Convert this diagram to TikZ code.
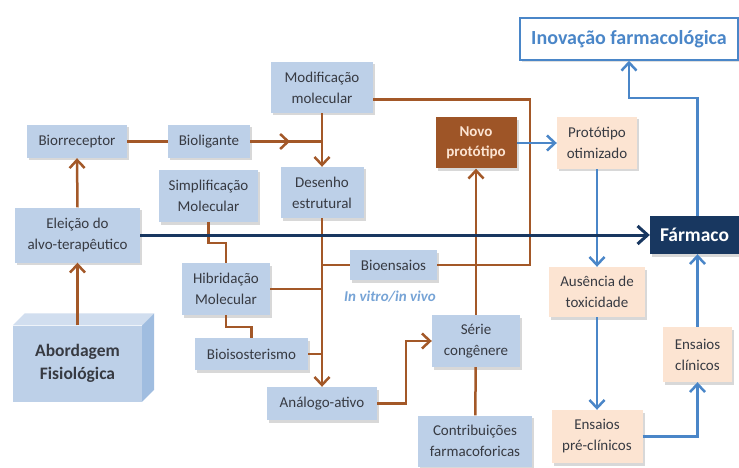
\documentclass[tikz,border=0pt]{standalone}
\usepackage{fontspec}
\setmainfont{Carlito}
\usetikzlibrary{arrows.meta,positioning,shadows}
\definecolor{boxblue}{RGB}{189,208,232}
\definecolor{peach}{RGB}{252,228,210}
\definecolor{rust}{RGB}{163,88,40}
\definecolor{navy}{RGB}{24,55,96}
\definecolor{skyline}{RGB}{74,134,200}
\definecolor{txt}{RGB}{55,58,66}

\begin{document}
\begin{tikzpicture}[
    x=1pt, y=-1pt,
    stage/.style={fill=boxblue, text=txt, align=center, font=\fontsize{15}{21}\selectfont, inner sep=2pt,
        drop shadow={shadow xshift=2pt, shadow yshift=-2.5pt, opacity=0.3}},
    trial/.style={stage, fill=peach},
    wire/.style={draw=rust, line width=2.5pt},
    link/.style={wire, -{Straight Barb[length=8pt, width=15pt]}},
    flow/.style={draw=skyline, line width=2.5pt, -{Straight Barb[length=8pt, width=15pt]}},
    main/.style={draw=navy, line width=3pt, -{Straight Barb[length=10pt, width=18pt]}}
]
\fill[white] (0,0) rectangle (739,468);
\useasboundingbox (0,0) rectangle (739,468);

\node[stage, minimum width=100pt, minimum height=33pt] (bior) at (77,141.5) {Biorreceptor};
\node[stage, minimum width=82pt, minimum height=33pt] (bioli) at (209,141.5) {Bioligante};
\node[stage, minimum width=102pt, minimum height=51pt] (modif) at (322,87.5) {Modificação\\molecular};
\node[stage, minimum width=83pt, minimum height=51pt] (desenho) at (322,192.5) {Desenho\\estrutural};
\node[stage, minimum width=99pt, minimum height=52pt] (simpl) at (208.5,196) {Simplificação\\Molecular};
\node[stage, minimum width=125pt, minimum height=55pt] (eleicao) at (77.5,235) {Eleição do\\alvo-terapêutico};
\node[stage, minimum width=88pt, minimum height=52pt] (hibrid) at (226,289) {Hibridação\\Molecular};
\node[stage, minimum width=113pt, minimum height=32pt] (bioiso) at (251.5,354) {Bioisosterismo};
\node[stage, minimum width=110pt, minimum height=33pt] (analogo) at (322,403.5) {Análogo-ativo};
\node[stage, minimum width=87pt, minimum height=30pt] (bioens) at (393.5,265) {Bioensaios};
\node[font=\fontsize{15}{18}\selectfont\bfseries\itshape, text=skyline!75] (invitro) at (390,297) {In vitro/in vivo};
\node[stage, minimum width=88pt, minimum height=52pt] (serie) at (476,341) {Série\\congênere};
\node[stage, minimum width=114pt, minimum height=51pt] (contrib) at (475,441) {Contribuições\\farmacoforicas};
\node[fill=rust!97!black, text=peach, align=center, font=\fontsize{15}{20}\selectfont\bfseries,
    minimum width=81pt, minimum height=51pt, drop shadow={shadow xshift=2pt, shadow yshift=-2.5pt, opacity=0.3}]
    (novo) at (476,143) {Novo\\protótipo};

\node[fill=boxblue, text=txt, font=\fontsize{17.5}{23}\selectfont\bfseries, align=center,
    minimum width=129pt, minimum height=76pt] (abord) at (77.5,363.5) {Abordagem\\Fisiológica};
\fill[boxblue!70!white] (abord.north west) -- ++(12,-12) -- ([shift={(12,-12)}]abord.north east) -- (abord.north east) -- cycle;
\fill[boxblue!75!skyline] (abord.north east) -- ++(12,-12) -- ([shift={(12,-12)}]abord.south east) -- (abord.south east) -- cycle;

\node[trial, minimum width=80pt, minimum height=52pt] (proto) at (597,143) {Protótipo\\otimizado};
\node[trial, minimum width=96pt, minimum height=50pt] (ausencia) at (597,292) {Ausência de\\toxicidade};
\node[trial, minimum width=91pt, minimum height=53pt] (preclin) at (597,436.5) {Ensaios\\pré-clínicos};
\node[trial, minimum width=69pt, minimum height=55pt] (clin) at (697.5,354.5) {Ensaios\\clínicos};
\node[fill=navy, text=white, font=\fontsize{19.5}{22}\selectfont\bfseries, minimum width=89pt, minimum height=38pt,
    drop shadow={shadow xshift=2pt, shadow yshift=-2.5pt, opacity=0.3}] (farmaco) at (694.5,235) {Fármaco};
\node[draw=skyline, line width=1.5pt, fill=white, text=skyline, font=\fontsize{20}{22}\selectfont\bfseries,
    minimum width=218pt, minimum height=42pt, drop shadow={shadow xshift=2pt, shadow yshift=-2.5pt, opacity=0.25}]
    (inovacao) at (629,39) {Inovação farmacológica};

\coordinate (bioarrow) at (290,141.5);
\coordinate (loop) at (530,265);
\coordinate (up) at (697.5,98);

\draw[link] (abord.north) -- (eleicao.south);
\draw[link] (eleicao.north) -- (bior.south);
\draw[wire] (bior) -- (bioli);
\draw[wire] (bioli.east) -- (bioli.east -| desenho.north);
\draw[link] (bioli.east) -- (bioarrow);
\draw[link] (modif) -- (desenho);
\draw[link] (desenho) -- (analogo);
\draw[wire] (bioens.west) -- (bioens.west -| desenho.south);
\draw[wire] (hibrid.east) -- (hibrid.east -| desenho.south);
\draw[wire] (bioiso.east) -- (bioiso.east -| desenho.south);
\draw[wire] (simpl.south) -- ++(0,21) -| (hibrid.north);
\draw[wire] (hibrid.south) -- ++(0,12) -| (bioiso.north);
\draw[wire] ([yshift=-12pt]modif.east) -| (loop) -- (bioens.east);
\draw[link] (serie) -- (novo);
\draw[link] (analogo.east) -- ++(29,0) |- (serie.west);
\draw[wire] (serie) -- (contrib);

\draw[flow] (novo) -- (proto);
\draw[flow] (proto) -- (ausencia);
\draw[flow] (ausencia) -- (preclin);
\draw[flow] (preclin.east) -| (clin.south);
\draw[flow] (clin.north) -- (clin.north |- farmaco.south);
\draw[flow] (farmaco.north -| up) -- (up) -| (inovacao.south);

\draw[main] (eleicao.east) -- (farmaco.west);
\end{tikzpicture}
\end{document}
